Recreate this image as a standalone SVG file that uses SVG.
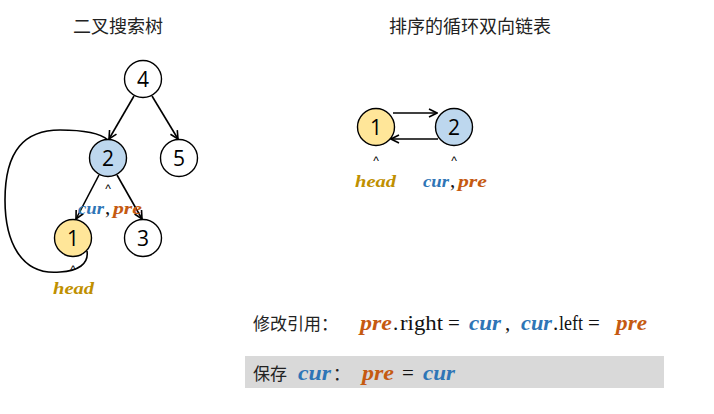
<svg xmlns="http://www.w3.org/2000/svg" width="714" height="414" viewBox="0 0 714 414">
<style>
.title{font-family:"Noto Sans CJK SC","Noto Sans",sans-serif;font-size:18px;fill:#222;}
.node circle{stroke:#000;stroke-width:1.4;fill:#fff;}
.node text{font-family:"Open Sans","Liberation Sans",sans-serif;font-size:21px;fill:#000;text-anchor:middle;}
.yel circle{fill:#ffe699;}
.blu circle{fill:#bdd7ee;}
.edge{stroke:#000;stroke-width:1.6;fill:none;}
.m{font-family:"Liberation Serif",serif;font-weight:bold;font-style:italic;}
.cur{fill:#2e75b6;}
.pre{fill:#c55a11;}
.head{fill:#bf9000;}
.caret{font-family:"Liberation Sans",sans-serif;font-size:12px;fill:#000;text-anchor:middle;}
.ser{font-family:"Liberation Serif",serif;font-size:21px;fill:#111;}
.cjk{font-family:"Noto Sans CJK SC",sans-serif;font-size:17px;fill:#222;}
</style>
<defs>
<marker id="arr" viewBox="0 0 10 10" refX="9" refY="5" markerWidth="10" markerHeight="10" markerUnits="userSpaceOnUse" orient="auto">
<path d="M1,1 L9,5 L1,9" fill="none" stroke="#000" stroke-width="1.6"/>
</marker>
</defs>
<rect width="714" height="414" fill="#fff"/>
<rect x="245" y="356" width="419" height="32" fill="#d9d9d9"/>

<text class="title" x="118" y="33" text-anchor="middle">二叉搜索树</text>
<text class="title" x="470" y="33" text-anchor="middle">排序的循环双向链表</text>

<g id="connectors">
<line class="edge" x1="134" y1="96" x2="109" y2="139" marker-end="url(#arr)"/>
<line class="edge" x1="152" y1="96" x2="178" y2="139" marker-end="url(#arr)"/>
<line class="edge" x1="99" y1="175" x2="76" y2="219" marker-end="url(#arr)"/>
<line class="edge" x1="117" y1="175" x2="142" y2="219" marker-end="url(#arr)"/>
<path class="edge" d="M87,251 C89,264 78,271 60,272 C20,276 5,240 5,200 C5,150 25,130 60,130 C85,130 100,133 108,140"/>
<line class="edge" x1="393" y1="113" x2="437" y2="113" marker-end="url(#arr)"/>
<line class="edge" x1="438" y1="139" x2="391" y2="139" marker-end="url(#arr)"/>
</g>

<g id="n4" class="node"><circle cx="143" cy="79" r="18.5"/><text x="143" y="86.5">4</text></g>
<g id="n2" class="node blu"><circle cx="108" cy="158" r="18.5"/><text x="108" y="165.5">2</text></g>
<g id="n5" class="node"><circle cx="179" cy="158" r="18.5"/><text x="179" y="165.5">5</text></g>
<g id="n1" class="node yel"><circle cx="73" cy="238" r="18.5"/><text x="73" y="245.5">1</text></g>
<g id="n3" class="node"><circle cx="143" cy="238" r="18.5"/><text x="143" y="245.5">3</text></g>

<g id="l1" class="node yel"><circle cx="376" cy="127" r="18.5"/><text x="376" y="134.5">1</text></g>
<g id="l2" class="node blu"><circle cx="454" cy="127" r="18.5"/><text x="454" y="134.5">2</text></g>

<text class="caret" x="108" y="193">^</text>
<text class="caret" x="73" y="274">^</text>
<text class="caret" x="376" y="165">^</text>
<text class="caret" x="454" y="165">^</text>

<text class="m cur" x="78" y="214" font-size="17" textLength="26" lengthAdjust="spacingAndGlyphs">cur</text>
<text class="ser" x="105" y="214" font-size="16">,</text>
<text class="m pre" x="113" y="214" font-size="17" textLength="29" lengthAdjust="spacingAndGlyphs">pre</text>
<text class="m head" x="53" y="294" font-size="17" textLength="41" lengthAdjust="spacingAndGlyphs">head</text>
<text class="m head" x="355" y="187" font-size="17" textLength="41" lengthAdjust="spacingAndGlyphs">head</text>
<text class="m cur" x="423" y="187" font-size="17" textLength="26" lengthAdjust="spacingAndGlyphs">cur</text>
<text class="ser" x="450" y="187" font-size="16">,</text>
<text class="m pre" x="458" y="187" font-size="17" textLength="29" lengthAdjust="spacingAndGlyphs">pre</text>

<text class="cjk" x="253" y="330">修改引用：</text>
<text class="m pre" x="360" y="330" font-size="22" textLength="32" lengthAdjust="spacingAndGlyphs">pre</text>
<text class="ser" x="393" y="330">.</text>
<text class="ser" x="400" y="330" textLength="43" lengthAdjust="spacingAndGlyphs">right</text>
<text class="ser" x="448" y="330">=</text>
<text class="m cur" x="469" y="330" font-size="22" textLength="32" lengthAdjust="spacingAndGlyphs">cur</text>
<text class="ser" x="505" y="330">,</text>
<text class="m cur" x="521" y="330" font-size="22" textLength="31" lengthAdjust="spacingAndGlyphs">cur</text>
<text class="ser" x="553" y="330">.</text>
<text class="ser" x="559" y="330" textLength="24" lengthAdjust="spacingAndGlyphs">left</text>
<text class="ser" x="588" y="330">=</text>
<text class="m pre" x="616" y="330" font-size="22" textLength="31" lengthAdjust="spacingAndGlyphs">pre</text>

<text class="cjk" x="253" y="380">保存</text>
<text class="m cur" x="298" y="380" font-size="22" textLength="33" lengthAdjust="spacingAndGlyphs">cur</text>
<text class="cjk" x="333" y="380">：</text>
<text class="m pre" x="362" y="380" font-size="22" textLength="32" lengthAdjust="spacingAndGlyphs">pre</text>
<text class="ser" x="402" y="380">=</text>
<text class="m cur" x="423" y="380" font-size="22" textLength="32" lengthAdjust="spacingAndGlyphs">cur</text>
</svg>
